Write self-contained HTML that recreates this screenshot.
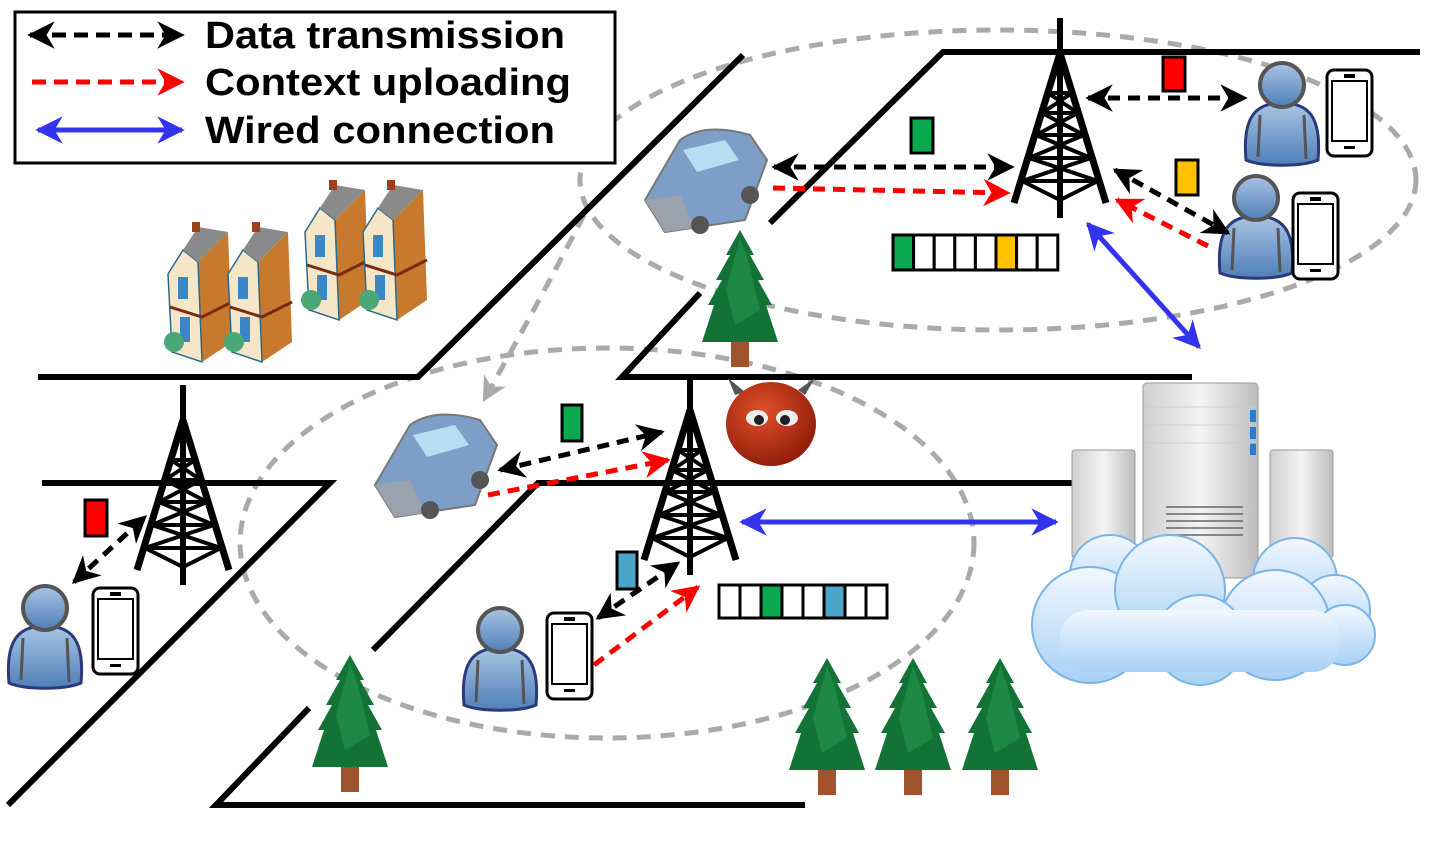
<!DOCTYPE html>
<html><head><meta charset="utf-8"><style>html,body{margin:0;padding:0;background:#fff}svg{display:block}</style></head>
<body>
<svg width="1429" height="862" viewBox="0 0 1429 862" xmlns="http://www.w3.org/2000/svg">
<defs>
<marker id="hb" viewBox="0 0 10 10" refX="9" refY="5" markerWidth="5.5" markerHeight="5.5" orient="auto-start-reverse" markerUnits="strokeWidth"><path d="M0,0 L10,5 L0,10 L3,5 Z" fill="#000"/></marker>
<marker id="hr" viewBox="0 0 10 10" refX="9" refY="5" markerWidth="5.5" markerHeight="5.5" orient="auto-start-reverse" markerUnits="strokeWidth"><path d="M0,0 L10,5 L0,10 L3,5 Z" fill="#f00"/></marker>
<marker id="hu" viewBox="0 0 10 10" refX="9" refY="5" markerWidth="5.5" markerHeight="5.5" orient="auto-start-reverse" markerUnits="strokeWidth"><path d="M0,0 L10,5 L0,10 L3,5 Z" fill="#3333ee"/></marker>
<marker id="hg" viewBox="0 0 10 10" refX="9" refY="5" markerWidth="5" markerHeight="5" orient="auto" markerUnits="strokeWidth"><path d="M0,0 L10,5 L0,10 L3,5 Z" fill="#aaa"/></marker>
<linearGradient id="pg" x1="0" y1="0" x2="0" y2="1"><stop offset="0" stop-color="#a9c4e4"/><stop offset="1" stop-color="#4f7fb8"/></linearGradient>
<linearGradient id="cg" x1="0" y1="0" x2="0" y2="1"><stop offset="0" stop-color="#f2f8ff"/><stop offset="1" stop-color="#a8d0f5"/></linearGradient>
<linearGradient id="sg" x1="0" y1="0" x2="1" y2="0"><stop offset="0" stop-color="#cfcfcf"/><stop offset="0.5" stop-color="#f4f4f4"/><stop offset="1" stop-color="#bdbdbd"/></linearGradient>
<radialGradient id="dg" cx="0.4" cy="0.35" r="0.7"><stop offset="0" stop-color="#e0512a"/><stop offset="1" stop-color="#8e1a08"/></radialGradient>
<g id="tower" stroke="#000" fill="none" stroke-width="6">
 <line x1="0" y1="0" x2="0" y2="200"/>
 <path d="M0,35 L-46,185 M0,35 L46,185" stroke-width="7"/>
 <path d="M-12,75 L12,75 M-18,95 L18,95 M-24,117 L24,117 M-31,140 L31,140 M-38,163 L38,163" stroke-width="4"/>
 <path d="M-12,75 L18,95 M12,75 L-18,95 M-18,95 L24,117 M18,95 L-24,117 M-24,117 L31,140 M24,117 L-31,140 M-31,140 L38,163 M31,140 L-38,163 M-38,163 L0,182 L38,163" stroke-width="4"/>
</g>
<g id="person">
 <path d="M-36,75 C-40,30 -25,18 0,18 C25,18 40,30 36,75 C20,82 -20,82 -36,75 Z" fill="url(#pg)" stroke="#2b3a7a" stroke-width="3"/>
 <path d="M-22,30 L-24,72 M22,30 L24,74" stroke="#555" stroke-width="3"/>
 <circle cx="0" cy="0" r="22" fill="url(#pg)" stroke="#555" stroke-width="4"/>
</g>
<g id="phone">
 <rect x="0" y="0" width="45" height="86" rx="7" fill="#fff" stroke="#000" stroke-width="3"/>
 <rect x="5" y="11" width="35" height="60" fill="#fff" stroke="#000" stroke-width="2"/>
 <rect x="17" y="4" width="11" height="4" fill="#000"/>
 <rect x="17" y="76" width="11" height="3" fill="#000"/>
</g>
<g id="tree">
 <rect x="-9" y="105" width="18" height="32" fill="#a0522d"/>
 <path d="M0,0 L14,25 L10,25 L24,50 L18,50 L32,75 L26,75 L38,112 L-38,112 L-26,75 L-32,75 L-18,50 L-24,50 L-10,25 L-14,25 Z" fill="#137336"/>
 <path d="M0,8 L8,30 L14,55 L20,80 L-5,95 L-14,60 Z" fill="#22934a" opacity="0.7"/>
</g>
<g id="car">
 <path d="M-60,20 L-25,-40 Q0,-58 45,-45 L62,-20 L40,40 L-40,52 Z" fill="#7d9fc7" stroke="#777" stroke-width="2"/>
 <path d="M-22,-30 L20,-40 L34,-20 L-8,-8 Z" fill="#b8dcf2"/>
 <path d="M-60,20 L-40,52 L-10,48 L-25,15 Z" fill="#9aa3ad"/>
 <circle cx="-5" cy="45" r="9" fill="#555"/><circle cx="45" cy="15" r="9" fill="#555"/>
</g>
<g id="house">
 <path d="M30,40 L60,10 L64,120 L34,140 Z" fill="#c77a2e"/>
 <path d="M0,52 L15,28 L30,40 L34,140 L4,130 Z" fill="#f6e6c8" stroke="#2a6a8a" stroke-width="1.5"/>
 <path d="M15,28 L30,5 L60,10 L30,40 Z" fill="#8a8a8a"/>
 <rect x="24" y="0" width="8" height="10" fill="#a0401a"/>
 <rect x="10" y="55" width="10" height="22" fill="#3a87c7"/>
 <rect x="12" y="95" width="10" height="25" fill="#3a87c7"/>
 <path d="M2,85 L34,95 L64,80" stroke="#7a2a10" stroke-width="3" fill="none"/>
 <circle cx="6" cy="120" r="10" fill="#4aa878"/>
</g>
</defs>

<ellipse cx="998" cy="180" rx="418" ry="150" fill="none" stroke="#aaa" stroke-width="5" stroke-dasharray="14,10"/>
<ellipse cx="607" cy="543" rx="367" ry="195" fill="none" stroke="#aaa" stroke-width="5" stroke-dasharray="14,10"/>
<path d="M584,215 Q540,300 484,400" fill="none" stroke="#aaa" stroke-width="5" stroke-dasharray="14,10" marker-end="url(#hg)"/>

<g stroke="#000" stroke-width="6" fill="none">
<path d="M743,55 L418,377 L38,377"/>
<path d="M1420,52 L943,52 L770,223"/>
<path d="M700,293 L622,377 L1192,377"/>
<path d="M42,483 L330,483 L8,805"/>
<path d="M1110,483 L538,483 L373,650"/>
<path d="M309,708 L216,805 L805,805"/>
</g>

<rect x="15" y="12" width="600" height="151" fill="#fff" stroke="#000" stroke-width="3"/>
<line x1="30" y1="35" x2="182" y2="35" stroke="#000" stroke-width="5" stroke-dasharray="14,8" marker-start="url(#hb)" marker-end="url(#hb)"/>
<line x1="32" y1="82" x2="182" y2="82" stroke="#f00" stroke-width="5" stroke-dasharray="14,8" marker-end="url(#hr)"/>
<line x1="38" y1="130" x2="182" y2="130" stroke="#3333ee" stroke-width="5" marker-start="url(#hu)" marker-end="url(#hu)"/>
<g font-family="Liberation Sans, Arial, sans-serif" font-weight="bold" font-size="38" fill="#000">
<text x="205" y="48" textLength="360" lengthAdjust="spacingAndGlyphs">Data transmission</text>
<text x="205" y="95" textLength="366" lengthAdjust="spacingAndGlyphs">Context uploading</text>
<text x="205" y="143" textLength="350" lengthAdjust="spacingAndGlyphs">Wired connection</text>
</g>

<use href="#house" x="305" y="180"/>
<use href="#house" x="363" y="180"/>
<use href="#house" x="168" y="222"/>
<use href="#house" x="228" y="222"/>

<use href="#tower" x="1060" y="18"/>
<use href="#tower" x="690" y="375"/>
<use href="#tower" x="183" y="385"/>

<use href="#car" x="705" y="180"/>
<use href="#car" x="435" y="465"/>

<use href="#tree" x="740" y="230"/>
<use href="#tree" x="350" y="655"/>
<use href="#tree" x="827" y="658"/>
<use href="#tree" x="913" y="658"/>
<use href="#tree" x="1000" y="658"/>

<use href="#person" x="1282" y="85"/><use href="#phone" x="1327" y="70"/>
<use href="#person" x="1256" y="198"/><use href="#phone" x="1293" y="193"/>
<use href="#person" x="45" y="608"/><use href="#phone" x="93" y="588"/>
<use href="#person" x="500" y="630"/><use href="#phone" x="547" y="613"/>

<path d="M735,395 L728,378 L745,392 Z M805,395 L815,378 L798,390 Z" fill="#555"/>
<ellipse cx="771" cy="424" rx="45" ry="42" fill="url(#dg)"/>
<ellipse cx="757" cy="418" rx="11" ry="8" fill="#eee"/><ellipse cx="787" cy="418" rx="11" ry="8" fill="#eee"/>
<circle cx="759" cy="420" r="5" fill="#222"/><circle cx="785" cy="420" r="5" fill="#222"/>

<rect x="1072" y="450" width="63" height="108" rx="3" fill="url(#sg)" stroke="#999"/>
<rect x="1270" y="450" width="63" height="108" rx="3" fill="url(#sg)" stroke="#999"/>
<rect x="1143" y="383" width="115" height="195" rx="4" fill="url(#sg)" stroke="#999"/>
<g fill="#2a7ad0"><rect x="1250" y="410" width="6" height="12"/><rect x="1250" y="427" width="6" height="12"/><rect x="1250" y="443" width="6" height="12"/></g>
<g stroke="#ccc"><line x1="1145" y1="407" x2="1256" y2="407"/><line x1="1145" y1="425" x2="1256" y2="425"/><line x1="1145" y1="443" x2="1256" y2="443"/></g>
<g stroke="#666" stroke-width="1.5"><line x1="1166" y1="507" x2="1243" y2="507"/><line x1="1166" y1="514" x2="1243" y2="514"/><line x1="1166" y1="521" x2="1243" y2="521"/><line x1="1166" y1="528" x2="1243" y2="528"/><line x1="1166" y1="535" x2="1243" y2="535"/></g>
<g fill="url(#cg)" stroke="#7ab4e6" stroke-width="2">
<circle cx="1295" cy="580" r="42"/><circle cx="1335" cy="610" r="35"/><circle cx="1110" cy="575" r="40"/>
<circle cx="1090" cy="625" r="58"/><circle cx="1170" cy="590" r="55"/><circle cx="1275" cy="625" r="55"/>
<circle cx="1345" cy="635" r="30"/><circle cx="1200" cy="640" r="45"/>
</g>
<rect x="1060" y="610" width="280" height="62" rx="28" fill="url(#cg)"/>

<g stroke="#000" stroke-width="3">
<rect x="893" y="235" width="20.6" height="35" fill="#0aa84f"/><rect x="913.6" y="235" width="20.6" height="35" fill="#fff"/><rect x="934.2" y="235" width="20.6" height="35" fill="#fff"/><rect x="954.8" y="235" width="20.6" height="35" fill="#fff"/><rect x="975.4" y="235" width="20.6" height="35" fill="#fff"/><rect x="996" y="235" width="20.6" height="35" fill="#ffc000"/><rect x="1016.6" y="235" width="20.6" height="35" fill="#fff"/><rect x="1037.2" y="235" width="20.6" height="35" fill="#fff"/>
<rect x="719" y="585" width="21" height="33" fill="#fff"/><rect x="740" y="585" width="21" height="33" fill="#fff"/><rect x="761" y="585" width="21" height="33" fill="#0aa84f"/><rect x="782" y="585" width="21" height="33" fill="#fff"/><rect x="803" y="585" width="21" height="33" fill="#fff"/><rect x="824" y="585" width="21" height="33" fill="#4aa6c8"/><rect x="845" y="585" width="21" height="33" fill="#fff"/><rect x="866" y="585" width="21" height="33" fill="#fff"/>
<rect x="911" y="118" width="22" height="35" fill="#0aa84f"/>
<rect x="1163" y="57" width="22" height="34" fill="#f00"/>
<rect x="1176" y="160" width="22" height="35" fill="#ffc000"/>
<rect x="562" y="405" width="20" height="36" fill="#0aa84f"/>
<rect x="617" y="552" width="20" height="37" fill="#4aa6c8"/>
<rect x="85" y="500" width="22" height="36" fill="#f00"/>
</g>

<g stroke-width="5" fill="none" stroke-dasharray="12,8">
<line x1="774" y1="167" x2="1012" y2="167" stroke="#000" marker-start="url(#hb)" marker-end="url(#hb)"/>
<line x1="773" y1="188" x2="1008" y2="193" stroke="#f00" marker-end="url(#hr)"/>
<line x1="1088" y1="98" x2="1245" y2="98" stroke="#000" marker-start="url(#hb)" marker-end="url(#hb)"/>
<line x1="1115" y1="170" x2="1228" y2="233" stroke="#000" marker-start="url(#hb)" marker-end="url(#hb)"/>
<line x1="1208" y1="246" x2="1117" y2="200" stroke="#f00" marker-end="url(#hr)"/>
<line x1="500" y1="470" x2="662" y2="432" stroke="#000" marker-start="url(#hb)" marker-end="url(#hb)"/>
<line x1="488" y1="495" x2="668" y2="460" stroke="#f00" marker-end="url(#hr)"/>
<line x1="598" y1="618" x2="678" y2="563" stroke="#000" marker-start="url(#hb)" marker-end="url(#hb)"/>
<line x1="594" y1="665" x2="698" y2="587" stroke="#f00" marker-end="url(#hr)"/>
<line x1="74" y1="582" x2="145" y2="517" stroke="#000" marker-start="url(#hb)" marker-end="url(#hb)"/>
</g>
<line x1="1088" y1="224" x2="1199" y2="347" stroke="#3333ee" stroke-width="5" marker-start="url(#hu)" marker-end="url(#hu)"/>
<line x1="742" y1="522" x2="1056" y2="522" stroke="#3333ee" stroke-width="5" marker-start="url(#hu)" marker-end="url(#hu)"/>
</svg>
</body></html>
